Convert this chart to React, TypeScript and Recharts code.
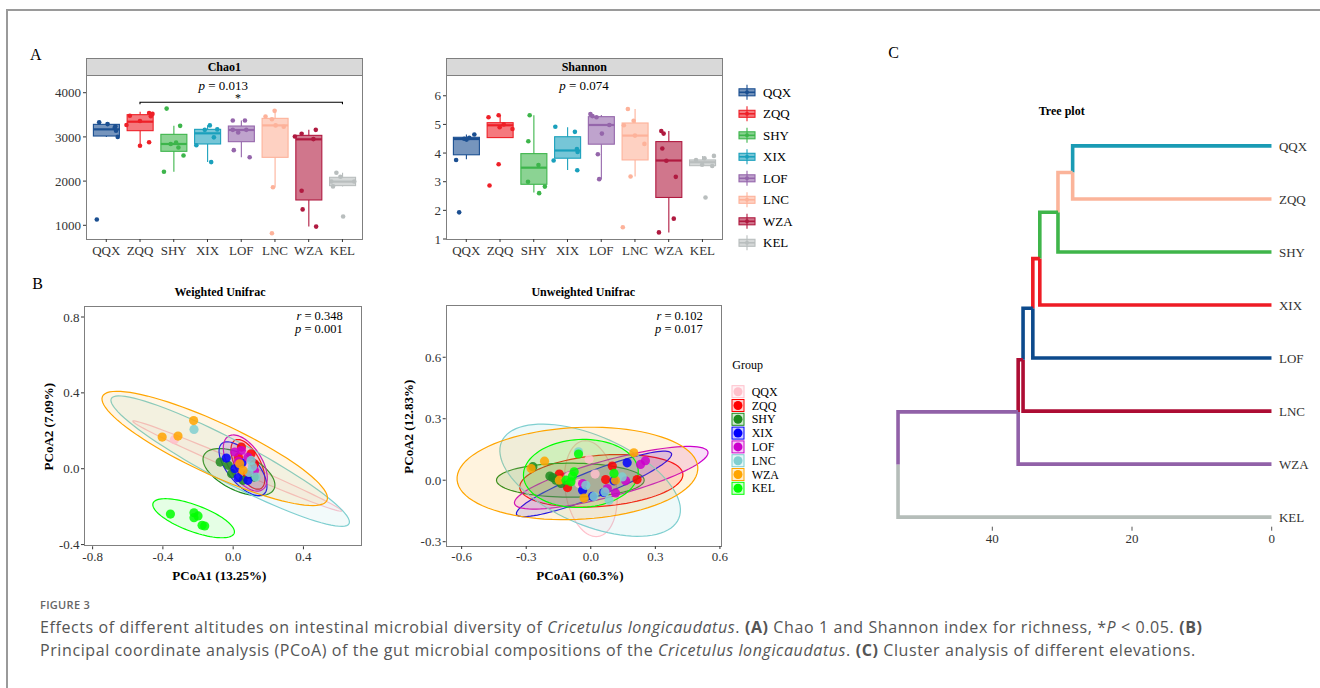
import React from "react";
import { ComposedChart, ScatterChart, Bar, Scatter, XAxis, YAxis } from "recharts";

const SERIF = '"Liberation Serif", "Times New Roman", serif';
const TICK = { fontSize: 13, fill: "#333", fontFamily: SERIF };

// ---- Panel A: alpha diversity boxplots ----
const groups = ["QQX", "ZQQ", "SHY", "XIX", "LOF", "LNC", "WZA", "KEL"];
const boxColors = ["#1B4F91", "#EE2028", "#3DB54B", "#1AA0BC", "#9566AB", "#FDB29A", "#B01A40", "#B9BEBE"];

// box stats: lower whisker, Q1, median, Q3, upper whisker
const chaoLow = [3000, 2794, 2214, 2432, 2538, 1860, 970, 1880];
const chaoQ1 = [3020, 3141, 2674, 2840, 2892, 2538, 1573, 1898];
const chaoMed = [3171, 3344, 2840, 3081, 3156, 3261, 2945, 1988];
const chaoQ3 = [3284, 3503, 3058, 3171, 3246, 3420, 3035, 2086];
const chaoHigh = [3330, 3570, 3250, 3262, 3370, 3593, 3160, 2191];
const chaoPoints = [
  [3330, 3290, 3240, 3200, 3140, 3000, 1130],
  [3270, 3480, 3360, 2800, 3540, 3520, 3470, 2880],
  [3640, 3250, 2210, 2840, 2870, 2760, 2580],
  [2810, 3160, 3260, 2990, 3170, 2430],
  [3370, 3370, 3160, 3100, 3160, 2700, 2540],
  [3460, 3590, 3400, 3260, 3230, 1860, 820],
  [3010, 3070, 3160, 2950, 1780, 1360, 970],
  [2190, 2100, 1990, 1880, 1990, 1200],
];
const chaoJitter = [
  [-0.21, 0.04, 0.27, 0.25, 0.29, 0.34, -0.28],
  [-0.4, -0.3, 0, 0, 0.27, 0.37, 0.32, 0.27],
  [-0.21, 0.19, -0.29, -0.09, 0.07, 0.14, 0.29],
  [-0.33, -0.08, 0.07, 0.19, 0.29, 0.11],
  [-0.25, 0.11, -0.25, -0.09, 0.15, -0.22, 0.25],
  [-0.28, -0.01, -0.09, 0.02, 0.26, -0.06, -0.09],
  [-0.41, -0.21, 0.21, 0.14, -0.21, -0.18, 0.22],
  [-0.18, -0.06, -0.33, -0.28, 0.35, 0.02],
];

const shanLow = [3.78, 4.54, 2.62, 3.41, 3.09, 3.18, 1.23, 3.55];
const shanQ1 = [3.94, 4.54, 2.91, 3.82, 4.31, 3.76, 2.45, 3.56];
const shanMed = [4.49, 4.97, 3.49, 4.09, 4.98, 4.61, 3.74, 3.68];
const shanQ3 = [4.55, 5.06, 3.98, 4.57, 5.27, 5.05, 4.4, 3.76];
const shanHigh = [4.65, 5.32, 5.32, 4.9, 5.33, 5.54, 4.77, 3.9];
const shanPoints = [
  [3.76, 4.47, 4.53, 4.65, 1.93, 4.5],
  [5.25, 5.32, 4.9, 5.0, 4.84, 3.61, 2.87],
  [5.32, 4.41, 3.58, 3.0, 2.83, 2.6],
  [4.92, 4.74, 4.14, 4.04, 3.74, 3.4],
  [5.36, 5.29, 5.25, 4.98, 4.68, 3.96, 3.09],
  [5.54, 5.13, 4.97, 4.61, 4.32, 3.18, 1.41],
  [4.77, 4.68, 4.16, 3.73, 3.17, 1.71, 1.23],
  [3.76, 3.82, 3.9, 3.59, 3.55, 2.45],
];
const shanJitter = [
  [-0.3, 0.01, 0.09, 0.24, -0.21, -0.06],
  [-0.34, -0.04, -0.01, 0.11, 0.37, -0.04, -0.31],
  [-0.12, -0.16, 0.14, -0.17, 0.33, 0.16],
  [-0.36, 0.22, 0.28, 0.3, -0.41, 0.29],
  [-0.32, -0.26, -0.14, 0.24, 0.02, -0.1, -0.06],
  [-0.21, -0.04, -0.33, 0, 0.28, -0.13, -0.36],
  [-0.22, -0.15, -0.19, -0.07, 0.21, 0.15, -0.29],
  [-0.19, 0.06, 0.34, -0.01, 0.29, 0.09],
];
// significance bracket ZQQ vs KEL
const chaoBracket = [
  { x: 2, v: 3738 },
  { x: 2, v: 3783 },
  { x: 8, v: 3783 },
  { x: 8, v: 3738 },
];

// ---- Panel B: PCoA ----
const pcoaColors = ["#FFC0CB", "#FF0000", "#1E8B1E", "#0000FF", "#CC00CC", "#7FCFD0", "#FFA500", "#00FF00"];
const wPoints = [
  [[-0.335, 0.153], [0.03, 0.06], [0.07, 0.02], [0.1, -0.02], [0.06, 0.09]],
  [[0.047, 0.114], [0.102, 0.079], [0.121, 0.026], [0.03, 0.06], [0.08, -0.03]],
  [[-0.074, 0.035], [-0.009, -0.026], [0.056, -0.061], [-0.028, 0.018], [0.12, -0.044]],
  [[-0.039, 0.056], [0.028, -0.047], [0.084, -0.061], [0.01, 0.0], [0.05, 0.03]],
  [[0.009, 0.088], [0.047, 0.096], [0.084, 0.061], [0.121, -0.009], [0.03, 0.04]],
  [[-0.223, 0.207], [0.102, 0.044], [0.13, -0.044], [0.11, 0.01], [0.09, -0.02]],
  [[-0.404, 0.167], [-0.314, 0.172], [-0.225, 0.254], [0.037, 0.026], [0.056, -0.009]],
  [[-0.357, -0.239], [-0.223, -0.232], [-0.223, -0.258], [-0.2, -0.249], [-0.177, -0.298], [-0.162, -0.302]],
];
// confidence ellipses: centre, half major vector, half minor vector (data units)
const wEllC = [[0.024, 0.014], [0.084, 0.023], [0.033, -0.018], [0.056, 0.0], [0.069, 0.03], [-0.017, 0.04], [-0.105, 0.107], [-0.225, -0.261]];
const wEllU = [[0.595, -0.237], [0.074, -0.127], [0.2, -0.088], [0.121, -0.132], [0.098, -0.14], [0.677, -0.329], [0.639, -0.274], [0.231, -0.079]];
const wEllV = [[0.012, 0.025], [0.062, 0.032], [0.043, 0.088], [0.063, 0.052], [0.078, 0.048], [0.05, 0.1], [0.06, 0.125], [0.025, 0.066]];

const uPoints = [
  [[-0.008, 0.102], [-0.054, -0.016], [0.02, 0.03], [-0.1, 0.02]],
  [[-0.146, 0.03], [-0.108, -0.036], [0.069, 0.003], [0.1, 0.069], [0.215, 0.003]],
  [[-0.177, 0.013], [-0.162, 0], [-0.269, 0.066], [-0.138, -0.016], [-0.19, 0.02]],
  [[-0.038, -0.049], [0.008, -0.079], [0.108, -0.003], [0.169, 0.085], [0.06, -0.06]],
  [[-0.038, -0.016], [0.077, -0.041], [0.115, -0.062], [0.162, -0.003], [0.231, 0.077], [0.254, 0.095]],
  [[-0.057, 0.139], [-0.023, -0.025], [0.015, -0.079], [0.066, -0.057], [0.146, 0.016], [0.085, -0.098]],
  [[-0.277, 0.057], [-0.215, 0.093], [-0.146, 0], [-0.031, -0.087], [0.2, 0.134], [0.115, 0]],
  [[-0.077, 0.041], [-0.092, -0.008], [-0.057, 0.128], [-0.115, 0], [0.108, 0.033], [-0.085, 0.02]],
];
const uEllC = [[0, -0.041], [0.049, -0.003], [-0.095, 0], [0.015, -0.018], [0.095, 0.012], [-0.003, 0], [-0.062, 0.033], [-0.046, 0.033]];
const uEllU = [[-0.025, 0.234], [0.379, 0.03], [0.343, 0], [0.36, 0.148], [0.449, 0.127], [0.419, -0.156], [0.559, 0.017], [0.266, 0.02]];
const uEllV = [[0.12, 0], [0, 0.125], [0, 0.083], [-0.02, 0.06], [-0.025, 0.085], [0.02, 0.225], [0.02, 0.225], [-0.02, 0.165]];

// ---- Panel C: cluster tree ----
const treeLeaves = ["QQX", "ZQQ", "SHY", "XIX", "LOF", "LNC", "WZA", "KEL"];
const treeColors = ["#1A9BB4", "#FBB49A", "#3FB54A", "#EE1C25", "#0D4A8C", "#AD0D34", "#9161A8", "#B5BDB9"];
// successive merge heights: QQX+ZQQ, +SHY, +XIX, +LOF, +LNC, +WZA, +KEL
const mergeHeights = [28.5, 30.6, 33.2, 34.2, 35.6, 36.3, 53.5];

// ---------- helpers ----------
const boxRows = (lo: number[], q1: number[], md: number[], q3: number[], hi: number[]) =>
  groups.map((g, i) => ({ g, i, range: [lo[i], hi[i]], lo: lo[i], q1: q1[i], md: md[i], q3: q3[i], hi: hi[i] }));

const pointRows = (pts: number[][], jit: number[][]) =>
  pts.flatMap((arr, i) => arr.map((v, k) => ({ x: i + 1 + jit[i][k], v, i })));

const BoxShape = (props: any) => {
  const { x, y, width, height } = props;
  const p = props.payload ?? props;
  const top = Math.min(y, y + height);
  const bot = Math.max(y, y + height);
  const span = p.hi - p.lo;
  const py = (v: number) => (span === 0 ? top : top + ((p.hi - v) / span) * (bot - top));
  const c = boxColors[p.i];
  const cx = x + width / 2;
  return (
    <g>
      <line x1={cx} x2={cx} y1={py(p.hi)} y2={py(p.q3)} stroke={c} strokeWidth={1.1} />
      <line x1={cx} x2={cx} y1={py(p.q1)} y2={py(p.lo)} stroke={c} strokeWidth={1.1} />
      <rect x={x} y={py(p.q3)} width={width} height={py(p.q1) - py(p.q3)} fill={c} fillOpacity={0.6} stroke={c} strokeWidth={1.1} />
      <line x1={x} x2={x + width} y1={py(p.md)} y2={py(p.md)} stroke={c} strokeWidth={2.2} />
    </g>
  );
};

const Dot = (r: number) => (props: any) => (
  <circle cx={props.cx} cy={props.cy} r={r} fill={boxColors[props.payload.i]} />
);

const NoShape = () => <g />;

function ellipsePath(c: number[], u: number[], v: number[]) {
  const pts = [];
  for (let k = 0; k <= 90; k++) {
    const t = (k / 90) * Math.PI * 2;
    pts.push({ x: c[0] + u[0] * Math.cos(t) + v[0] * Math.sin(t), y: c[1] + u[1] * Math.cos(t) + v[1] * Math.sin(t) });
  }
  return pts;
}

const fmt1 = (v: number) => v.toFixed(1);

function BoxPanel({ rows, pts, domain, ticks, bracket }: any) {
  return (
    <ComposedChart width={350} height={190} data={rows} margin={{ top: 0, right: 7.3, bottom: 0, left: 0 }}>
      <XAxis dataKey="g" type="category" interval={0} padding={{ left: 3.4, right: 3.4 }} axisLine={false}
        tickLine={{ stroke: "#333" }} tickSize={3} tickMargin={4} height={27} tick={TICK} />
      <XAxis xAxisId="n" type="number" dataKey="x" domain={[0.4, 8.6]} allowDataOverflow hide />
      <YAxis type="number" domain={domain} ticks={ticks} allowDataOverflow width={66} axisLine={false}
        tickLine={{ stroke: "#333" }} tickSize={3} tickMargin={2} tick={TICK} />
      <Bar dataKey="range" barSize={26} shape={BoxShape} isAnimationActive={false} />
      <Scatter xAxisId="n" data={pts} dataKey="v" shape={Dot(2.3)} isAnimationActive={false} />
      {bracket && (
        <Scatter xAxisId="n" data={bracket} dataKey="v" shape={NoShape} line={{ stroke: "#000", strokeWidth: 1.1 }}
          lineType="joint" isAnimationActive={false} />
      )}
    </ComposedChart>
  );
}

function PcoaPanel({ points, ellC, ellU, ellV, xDomain, yDomain, xTicks, yTicks, yWidth, height, fillOp }: any) {
  return (
    <ScatterChart width={350} height={height} margin={{ top: 0, right: 7.7, bottom: 0, left: 0 }}>
      <XAxis type="number" dataKey="x" domain={xDomain} ticks={xTicks} tickFormatter={fmt1} allowDataOverflow
        axisLine={false} tickLine={{ stroke: "#333" }} tickSize={3} tickMargin={2.4} height={30} tick={TICK} />
      <YAxis type="number" dataKey="y" domain={yDomain} ticks={yTicks} tickFormatter={fmt1} allowDataOverflow
        axisLine={false} tickLine={{ stroke: "#333" }} tickSize={3} tickMargin={1.5} width={yWidth} tick={TICK} />
      {groups.map((g, i) => (
        <Scatter key={"e" + g} data={ellipsePath(ellC[i], ellU[i], ellV[i])} shape={NoShape} lineType="joint"
          isAnimationActive={false}
          line={(lp: any) => (
            <path d={"M" + lp.points.map((q: any) => `${q.x},${q.y}`).join("L") + "Z"} fill={pcoaColors[i]}
              fillOpacity={fillOp} stroke={pcoaColors[i]} strokeWidth={1.2} />
          )} />
      ))}
      {groups.map((g, i) => (
        <Scatter key={"p" + g} data={points[i].map((q: number[]) => ({ x: q[0], y: q[1] }))} isAnimationActive={false}
          shape={(sp: any) => <circle cx={sp.cx} cy={sp.cy} r={4.6} fill={pcoaColors[i]} fillOpacity={0.85} />} />
      ))}
    </ScatterChart>
  );
}

function buildTree() {
  const n = treeLeaves.length;
  const leafY = (i: number) => n - 1 - i;
  const nodeY: number[] = [];
  mergeHeights.forEach((h, k) => {
    const prev = k === 0 ? leafY(0) : nodeY[k - 1];
    nodeY.push((prev + leafY(k + 1)) / 2);
  });
  const br: { color: string; pts: { h: number; y: number }[] }[] = [];
  br.push({ color: treeColors[0], pts: [{ h: 0, y: leafY(0) }, { h: mergeHeights[0], y: leafY(0) }, { h: mergeHeights[0], y: nodeY[0] }] });
  mergeHeights.forEach((h, k) => {
    br.push({ color: treeColors[k + 1], pts: [{ h: 0, y: leafY(k + 1) }, { h, y: leafY(k + 1) }, { h, y: nodeY[k] }] });
    if (k > 0) {
      br.push({ color: treeColors[k], pts: [{ h: mergeHeights[k - 1], y: nodeY[k - 1] }, { h, y: nodeY[k - 1] }, { h, y: nodeY[k] }] });
    }
  });
  return br;
}

const Abs = ({ left, top, children }: any) => (
  <div style={{ position: "absolute", left, top }}>{children}</div>
);

export default function App() {
  const chaoRows = boxRows(chaoLow, chaoQ1, chaoMed, chaoQ3, chaoHigh);
  const shanRows = boxRows(shanLow, shanQ1, shanMed, shanQ3, shanHigh);
  const branches = buildTree();
  const frame = "1px solid #7f7f7f";

  return (
    <div style={{ position: "absolute", left: 0, top: 0, width: 1320, height: 688, background: "#fff", overflow: "hidden", fontFamily: SERIF }}>
      {/* page frame */}
      <div style={{ position: "absolute", left: 6, top: 9, width: 2, height: 680, background: "#9a9a9a" }} />
      <div style={{ position: "absolute", left: 6, top: 9, width: 1314, height: 2, background: "#9a9a9a" }} />

      {/* strips + panel borders for A */}
      {[86, 446].map((l, k) => (
        <React.Fragment key={l}>
          <div style={{ position: "absolute", left: l, top: 58, width: 276.7, height: 18, background: "#d9d9d9", border: frame, boxSizing: "border-box" }} />
          <div style={{ position: "absolute", left: l, top: 58, width: 276.7, height: 181.5, border: frame, boxSizing: "border-box" }} />
          <div style={{ position: "absolute", left: l, top: 58, width: 276.7, lineHeight: "18px", textAlign: "center", fontWeight: 700, fontSize: 12 }}>
            {k === 0 ? "Chao1" : "Shannon"}
          </div>
        </React.Fragment>
      ))}
      <Abs left={20} top={76}>
        <BoxPanel rows={chaoRows} pts={pointRows(chaoPoints, chaoJitter)} domain={[690, 4378]} ticks={[1000, 2000, 3000, 4000]} bracket={chaoBracket} />
      </Abs>
      <Abs left={380} top={76}>
        <BoxPanel rows={shanRows} pts={pointRows(shanPoints, shanJitter)} domain={[1, 6.69]} ticks={[1, 2, 3, 4, 5, 6]} />
      </Abs>

      {/* PCoA frames */}
      <div style={{ position: "absolute", left: 84, top: 305.7, width: 278.3, height: 240.8, border: frame, boxSizing: "border-box" }} />
      <div style={{ position: "absolute", left: 445.7, top: 305, width: 276.6, height: 241.5, border: frame, boxSizing: "border-box" }} />
      <Abs left={20} top={305.7}>
        <PcoaPanel points={wPoints} ellC={wEllC} ellU={wEllU} ellV={wEllV} xDomain={[-0.849, 0.735]} yDomain={[-0.409, 0.858]}
          xTicks={[-0.8, -0.4, 0, 0.4]} yTicks={[-0.4, 0, 0.4, 0.8]} yWidth={64} height={270.3} fillOp={0.1} />
      </Abs>
      <Abs left={380} top={305}>
        <PcoaPanel points={uPoints} ellC={uEllC} ellU={uEllU} ellV={uEllV} xDomain={[-0.674, 0.611]} yDomain={[-0.321, 0.855]}
          xTicks={[-0.6, -0.3, 0, 0.3, 0.6]} yTicks={[-0.3, 0, 0.3, 0.6]} yWidth={65.7} height={271} fillOp={0.13} />
      </Abs>

      {/* Panel C tree */}
      <Abs left={880} top={130.1}>
        <ScatterChart width={440} height={426.7} margin={{ top: 0, right: 0, bottom: 0, left: 10 }}>
          <XAxis type="number" dataKey="h" domain={[0, 54.65]} ticks={[0, 20, 40]} reversed allowDataOverflow axisLine={false}
            tickLine={{ stroke: "#555" }} tickSize={4} tickMargin={3.5} height={30} tick={TICK} />
          <YAxis type="number" dataKey="y" orientation="right" domain={[-0.18, 7.3]} ticks={[0, 1, 2, 3, 4, 5, 6, 7]}
            tickFormatter={(v: number) => treeLeaves[treeLeaves.length - 1 - v]} axisLine={false} tickLine={false}
            tickSize={0} tickMargin={7.3} width={48.3} tick={{ ...TICK, textAnchor: "start" }} allowDataOverflow />
          {branches.map((b, k) => (
            <Scatter key={k} data={b.pts} shape={NoShape} lineType="joint" isAnimationActive={false}
              line={{ stroke: b.color, strokeWidth: 3.6, strokeLinejoin: "miter" }} />
          ))}
        </ScatterChart>
      </Abs>

      {/* text overlay */}
      <svg width={1320} height={688} style={{ position: "absolute", left: 0, top: 0, pointerEvents: "none" }} fontFamily={SERIF}>
        <text x={30} y={60} fontSize={16}>A</text>
        <text x={32.3} y={289} fontSize={16}>B</text>
        <text x={888.3} y={58.3} fontSize={16}>C</text>

        <text x={223.3} y={89.5} fontSize={13} textAnchor="middle"><tspan fontStyle="italic">p</tspan> = 0.013</text>
        <text x={238} y={101.5} fontSize={12} textAnchor="middle">*</text>
        <text x={584} y={89.5} fontSize={13} textAnchor="middle"><tspan fontStyle="italic">p</tspan> = 0.074</text>

        {/* legend A */}
        {groups.map((g, i) => {
          const cy = 92.3 + i * 21.5;
          const c = boxColors[i];
          return (
            <g key={g}>
              <line x1={747} x2={747} y1={cy - 7.5} y2={cy + 7.5} stroke={c} strokeWidth={1.1} />
              <rect x={739} y={cy - 3.5} width={16} height={7} fill={c} fillOpacity={0.6} stroke={c} strokeWidth={1.1} />
              <line x1={739} x2={755} y1={cy} y2={cy} stroke={c} strokeWidth={1.6} />
              <circle cx={747} cy={cy} r={2} fill={c} />
              <text x={763} y={cy + 4.5} fontSize={13}>{g}</text>
            </g>
          );
        })}

        <text x={220} y={295.5} fontSize={12} fontWeight={700} textAnchor="middle">Weighted Unifrac</text>
        <text x={583.3} y={295.5} fontSize={12} fontWeight={700} textAnchor="middle">Unweighted Unifrac</text>
        <text x={342.7} y={320} fontSize={12.5} textAnchor="end"><tspan fontStyle="italic">r</tspan> = 0.348</text>
        <text x={342.7} y={333} fontSize={12.5} textAnchor="end"><tspan fontStyle="italic">p</tspan> = 0.001</text>
        <text x={702.7} y={320} fontSize={12.5} textAnchor="end"><tspan fontStyle="italic">r</tspan> = 0.102</text>
        <text x={702.7} y={333} fontSize={12.5} textAnchor="end"><tspan fontStyle="italic">p</tspan> = 0.017</text>
        <text x={219.3} y={580} fontSize={13} fontWeight={700} textAnchor="middle">PCoA1 (13.25%)</text>
        <text x={580} y={580} fontSize={13} fontWeight={700} textAnchor="middle">PCoA1 (60.3%)</text>
        <text transform="translate(52.8,426.7) rotate(-90)" fontSize={13} fontWeight={700} textAnchor="middle">PCoA2 (7.09%)</text>
        <text transform="translate(412.8,426.7) rotate(-90)" fontSize={13} fontWeight={700} textAnchor="middle">PCoA2 (12.83%)</text>

        {/* legend B */}
        <text x={732.3} y={369} fontSize={12}>Group</text>
        {groups.map((g, i) => {
          const cy = 391.7 + i * 13.8;
          const c = pcoaColors[i];
          return (
            <g key={g}>
              <rect x={732} y={cy - 6} width={12} height={12} fill={c} fillOpacity={0.2} stroke={c} strokeWidth={1} />
              <circle cx={738} cy={cy} r={4.5} fill={c} />
              <text x={751.7} y={cy + 4} fontSize={12}>{g}</text>
            </g>
          );
        })}

        <text x={1061.7} y={115} fontSize={12} fontWeight={700} textAnchor="middle">Tree plot</text>
      </svg>

      {/* caption */}
      <div style={{ position: "absolute", left: 40, top: 597, fontFamily: '"Open Sans", sans-serif', color: "#666", fontSize: 11, fontWeight: 600, letterSpacing: 0.3 }}>
        FIGURE 3
      </div>
      <div style={{ position: "absolute", left: 40, top: 616, fontFamily: '"Open Sans", sans-serif', color: "#555", fontSize: 16, letterSpacing: 0.6, lineHeight: "23px", whiteSpace: "nowrap" }}>
        Effects of different altitudes on intestinal microbial diversity of <i>Cricetulus longicaudatus</i>. <b>(A)</b> Chao 1 and Shannon index for richness, *<i>P</i> &lt; 0.05. <b>(B)</b>
        <br />
        Principal coordinate analysis (PCoA) of the gut microbial compositions of the <i>Cricetulus longicaudatus</i>. <b>(C)</b> Cluster analysis of different elevations.
      </div>
    </div>
  );
}
